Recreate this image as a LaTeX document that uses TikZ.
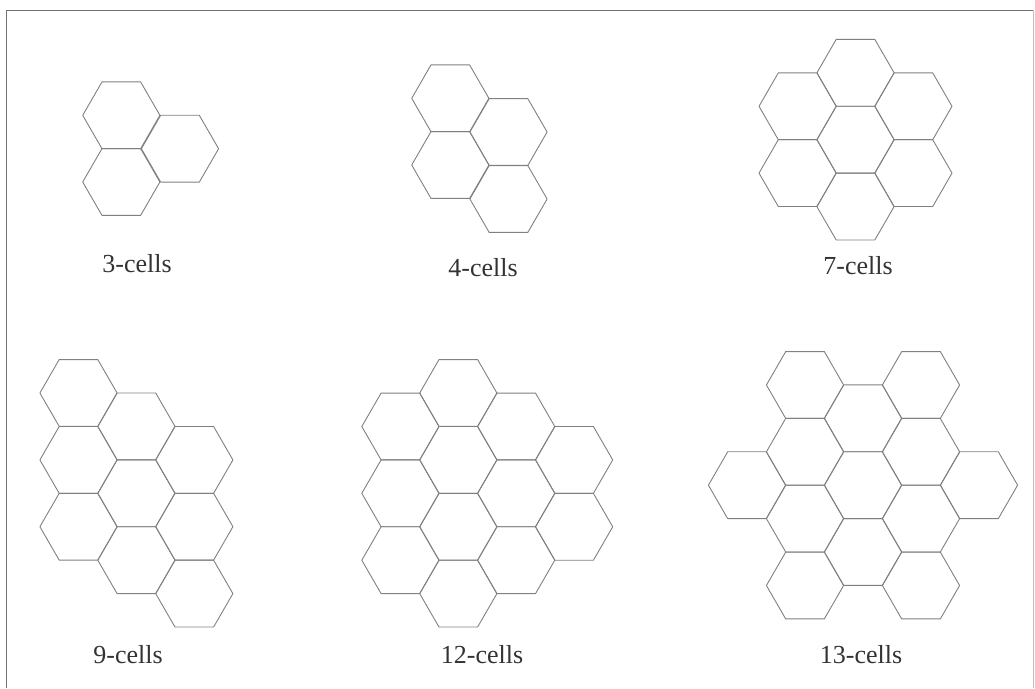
\documentclass[tikz,border=0pt]{standalone}
\usepackage{fontspec}
\setmainfont{Liberation Serif}
\begin{document}
\begin{tikzpicture}[x=1pt,y=-1pt]
\useasboundingbox (0,0) rectangle (1035,688);
\def\R{38.6}
\tikzset{cell/.style={draw=black!50,line width=0.9pt,line join=round},
  lbl/.style={font=\fontsize{26}{26}\selectfont,text=black!80,anchor=base,inner sep=0pt},
  frame/.style={draw=black!55,line width=0.8pt}}
\newcommand\hx[2]{\draw[cell] (#1,#2) +(0:\R) -- +(60:\R) -- +(120:\R) -- +(180:\R) -- +(240:\R) -- +(300:\R) -- cycle;}
% frame
\draw[frame] (6,688) -- (6,10) -- (1033,10);
\draw[frame,draw=black!25] (1033,10) -- (1033,688);
% 3-cells
\hx{121.3}{115.3}\hx{180}{148.7}\hx{121.3}{182}
\node[lbl] (l3) at (137,272) {3-cells};
% 4-cells
\hx{450.3}{98.3}\hx{508.5}{132}\hx{450.3}{165}\hx{508.5}{199}
\node[lbl] (l4) at (483,276) {4-cells};
% 7-cells
\hx{855.5}{139.7}\hx{855.5}{72.8}\hx{855.5}{206.6}
\hx{797.6}{106.3}\hx{797.6}{173.1}\hx{913.4}{106.3}\hx{913.4}{173.1}
\node[lbl] (l7) at (858,274) {7-cells};
% 9-cells
\hx{78.5}{393}\hx{78.5}{459.9}\hx{78.5}{526.7}
\hx{136.4}{426.4}\hx{136.4}{493.3}\hx{136.4}{560.2}
\hx{194.3}{459.9}\hx{194.3}{526.7}\hx{194.3}{593.6}
\node[lbl] (l9) at (128,663) {9-cells};
% 12-cells
\hx{400.4}{426.5}\hx{400.4}{493.3}\hx{400.4}{560.2}
\hx{458.3}{393}\hx{458.3}{459.9}\hx{458.3}{526.8}\hx{458.3}{593.6}
\hx{516.2}{426.5}\hx{516.2}{493.3}\hx{516.2}{560.2}
\hx{574.1}{459.9}\hx{574.1}{526.8}
\node[lbl] (l12) at (482,663) {12-cells};
% 13-cells
\hx{747}{485.2}
\hx{805}{385}\hx{805}{451.8}\hx{805}{518.6}\hx{805}{585.5}
\hx{863}{418.3}\hx{863}{485.2}\hx{863}{552}
\hx{921}{385}\hx{921}{451.8}\hx{921}{518.6}\hx{921}{585.5}
\hx{979}{485.2}
\node[lbl] (l13) at (861,663) {13-cells};
\end{tikzpicture}
\end{document}
